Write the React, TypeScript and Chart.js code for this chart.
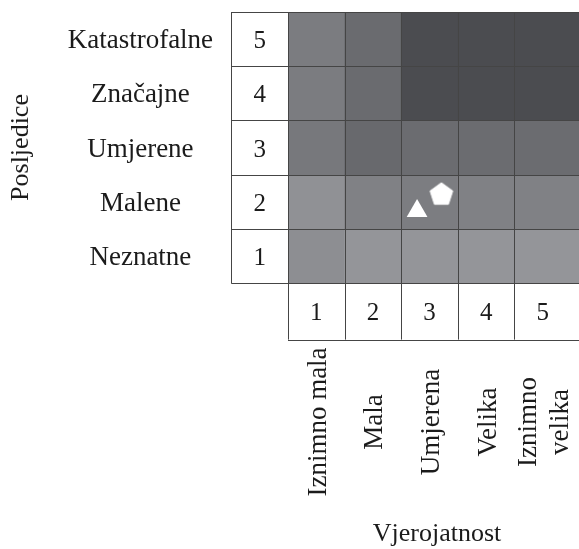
import React, { useEffect, useRef } from "react";
import { Chart, registerables } from "chart.js";

Chart.register(...registerables);

// ---- data ----
const likelihoodLevels = [1, 2, 3, 4, 5];
const likelihoodLabels = [["Iznimno mala"], ["Mala"], ["Umjerena"], ["Velika"], ["Iznimno", "velika"]];
const consequenceLevels = [1, 2, 3, 4, 5];
const consequenceLabels = ["Neznatne", "Malene", "Umjerene", "Značajne", "Katastrofalne"];
const xTitle = "Vjerojatnost";
const yTitle = "Posljedice";
// gray shade of each cell; rows = consequence 1..5, columns = likelihood 1..5
const cellShade = [
  [141, 148, 148, 148, 148],
  [144, 128, 124, 128, 128],
  [119, 104, 107, 107, 107],
  [123, 106, 75, 75, 75],
  [123, 106, 75, 75, 75],
];
const trianglePoints = [{ x: 2.78, y: 1.83 }];
const pentagonPoints = [{ x: 3.21, y: 2.13 }];
const likelihoodAxisMax = 5.64;

const FONT = "'Liberation Serif', 'Times New Roman', serif";
const TEXT = "#1b1b1b";
const LINE = "#454545";

function shadeColor(v: number) {
  return `rgb(${v},${v + 1},${v + 5})`;
}

function makePentagon(): HTMLCanvasElement {
  const c = document.createElement("canvas");
  c.width = 26;
  c.height = 26;
  const g = c.getContext("2d")!;
  const R = 11.9;
  const cx = 13;
  const cy = 13;
  g.beginPath();
  for (let i = 0; i < 5; i++) {
    const a = -Math.PI / 2 + (i * 2 * Math.PI) / 5;
    const px = cx + R * Math.cos(a);
    const py = cy + R * Math.sin(a);
    if (i === 0) g.moveTo(px, py);
    else g.lineTo(px, py);
  }
  g.closePath();
  g.lineJoin = "round";
  g.fillStyle = "#ffffff";
  g.strokeStyle = "#ffffff";
  g.lineWidth = 1;
  g.fill();
  g.stroke();
  return c;
}

const decorPlugin = {
  id: "riskMatrixDecor",
  afterDatasetsDraw(chart: any) {
    const { ctx, chartArea, scales } = chart;
    const x = scales.x;
    const y = scales.y;
    const colW = x.getPixelForValue(1) - x.getPixelForValue(0);
    const { left, right, top, bottom } = chartArea;
    const boxLeft = left - colW;
    const boxBottom = bottom + colW;
    const p = (v: number) => Math.round(v) + 0.5;

    ctx.save();
    ctx.strokeStyle = LINE;
    ctx.lineWidth = 1;
    ctx.beginPath();
    // row boundaries
    const rowEdges = consequenceLevels.map((l) => l - 0.5).concat([consequenceLevels[consequenceLevels.length - 1] + 0.5]);
    rowEdges.forEach((e) => {
      const yy = p(y.getPixelForValue(e));
      ctx.moveTo(boxLeft, yy);
      ctx.lineTo(right, yy);
    });
    // column boundaries
    likelihoodLevels.forEach((l) => {
      const xx = p(x.getPixelForValue(l - 0.5));
      ctx.moveTo(xx, top);
      ctx.lineTo(xx, boxBottom);
    });
    // outer borders of number boxes
    ctx.moveTo(p(boxLeft), top);
    ctx.lineTo(p(boxLeft), p(bottom));
    ctx.moveTo(left, p(boxBottom));
    ctx.lineTo(right, p(boxBottom));
    ctx.stroke();

    ctx.fillStyle = TEXT;
    // y side: numbers and names
    consequenceLevels.forEach((l, i) => {
      const cy = y.getPixelForValue(l);
      ctx.font = `25px ${FONT}`;
      ctx.textAlign = "center";
      ctx.textBaseline = "alphabetic";
      ctx.fillText(String(l), (boxLeft + left) / 2, cy + 9);
      ctx.font = `27px ${FONT}`;
      ctx.fillText(consequenceLabels[i], boxLeft - 91, cy + 9);
    });
    // x side: numbers and rotated names
    likelihoodLevels.forEach((l, i) => {
      const x0 = x.getPixelForValue(l - 0.5);
      const x1 = x.getPixelForValue(Math.min(l + 0.5, x.max));
      const cx = (x0 + x1) / 2;
      ctx.font = `25px ${FONT}`;
      ctx.textAlign = "center";
      ctx.textBaseline = "alphabetic";
      ctx.fillText(String(l), cx, (bottom + boxBottom) / 2 + 9);
      const lines = likelihoodLabels[i];
      ctx.save();
      ctx.translate(cx, 422);
      ctx.rotate(-Math.PI / 2);
      ctx.font = `27px ${FONT}`;
      const lh = 32;
      lines.forEach((t, k) => {
        ctx.fillText(t, 0, 9.5 + (k - (lines.length - 1) / 2) * lh);
      });
      ctx.restore();
    });
    // titles
    ctx.font = `26px ${FONT}`;
    ctx.textAlign = "center";
    ctx.fillText(xTitle, 437, 541);
    ctx.save();
    ctx.translate(28, (top + bottom) / 2);
    ctx.rotate(-Math.PI / 2);
    ctx.fillText(yTitle, 0, 0);
    ctx.restore();
    ctx.restore();
  },
};

export default function App() {
  const ref = useRef<HTMLCanvasElement | null>(null);
  useEffect(() => {
    if (!ref.current) return;
    const cells: any[] = [];
    const colors: string[] = [];
    consequenceLevels.forEach((r, ri) => {
      likelihoodLevels.forEach((c, ci) => {
        const isLast = ci === likelihoodLevels.length - 1;
        cells.push({ y: r, x: [c - 0.5, isLast ? likelihoodAxisMax : c + 0.5] });
        colors.push(shadeColor(cellShade[ri][ci]));
      });
    });
    const chart = new Chart(ref.current, {
      type: "bar",
      data: {
        datasets: [
          {
            type: "scatter",
            data: trianglePoints,
            pointStyle: "triangle",
            pointRadius: 12,
            pointBackgroundColor: "#ffffff",
            pointBorderWidth: 0,
            order: 0,
          } as any,
          {
            type: "scatter",
            data: pentagonPoints,
            pointStyle: makePentagon(),
            pointRadius: 12,
            pointBorderWidth: 0,
            order: 0,
          } as any,
          {
            type: "bar",
            indexAxis: "y",
            data: cells,
            backgroundColor: colors,
            borderWidth: 0,
            barPercentage: 1,
            categoryPercentage: 1,
            order: 1,
          } as any,
        ],
      },
      options: {
        responsive: false,
        animation: false,
        events: [],
        layout: { autoPadding: false, padding: { left: 288, top: 12, right: 0, bottom: 266 } },
        plugins: { legend: { display: false }, tooltip: { enabled: false } },
        scales: {
          x: {
            type: "linear",
            display: false,
            offset: false,
            min: 0.5,
            max: likelihoodAxisMax,
            afterBuildTicks: (s: any) => {
              s.ticks = likelihoodLevels.map((v) => ({ value: v }));
            },
          },
          y: {
            type: "linear",
            display: false,
            offset: false,
            min: 0.5,
            max: 5.5,
            afterBuildTicks: (s: any) => {
              s.ticks = consequenceLevels.map((v) => ({ value: v }));
            },
          },
        },
      } as any,
      plugins: [decorPlugin],
    });
    return () => chart.destroy();
  }, []);
  return (
    <div style={{ position: "absolute", left: 0, top: 0, width: 579, height: 549, background: "#fff" }}>
      <canvas ref={ref} width={579} height={549} style={{ display: "block" }} />
    </div>
  );
}
